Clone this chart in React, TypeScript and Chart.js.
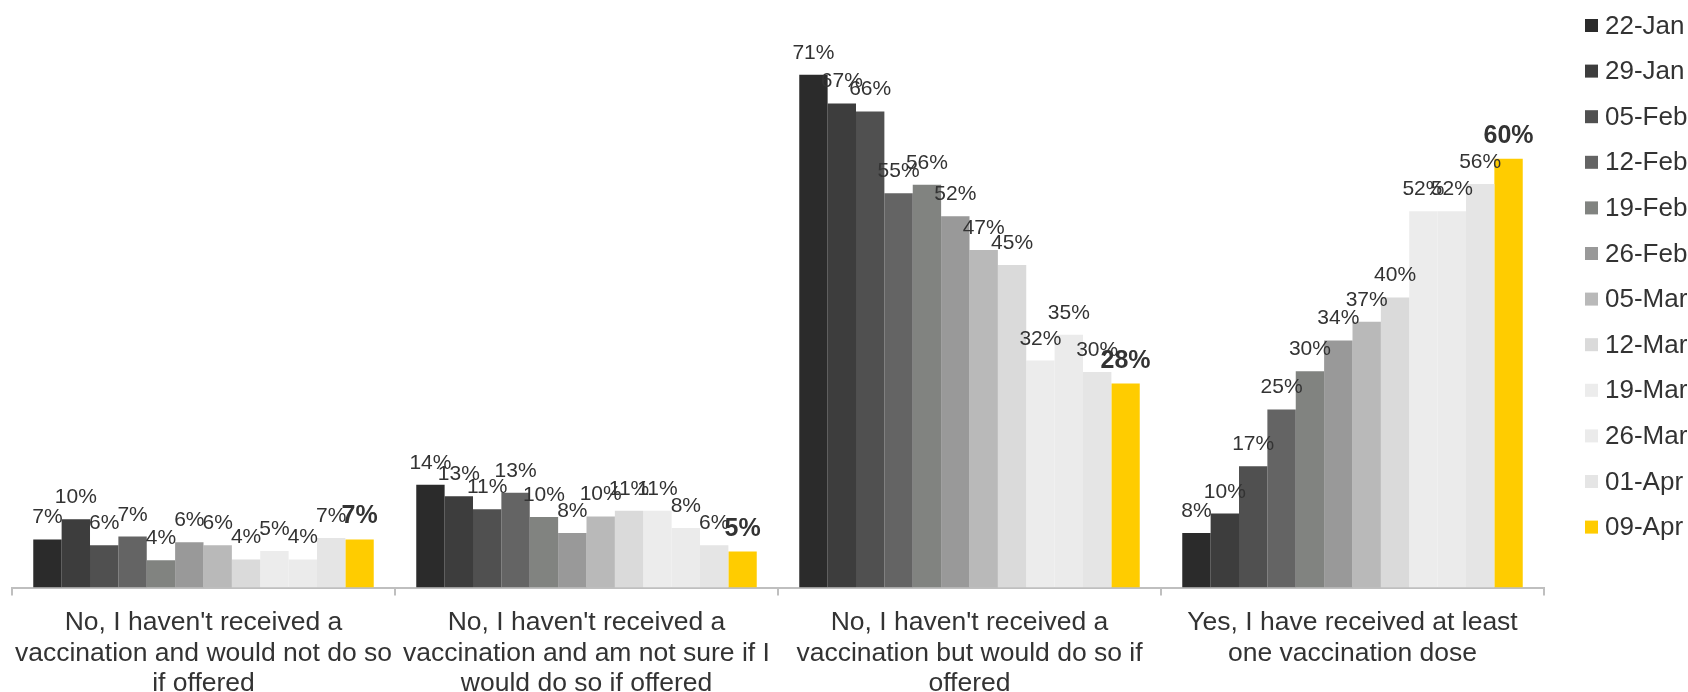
import React, { useEffect, useRef } from "react";
import { Chart, registerables } from "chart.js";

Chart.register(...registerables);

// ---- Data ----
const categories: string[][] = [
  ["No, I haven't received a", "vaccination and would not do so", "if offered"],
  ["No, I haven't received a", "vaccination and am not sure if I", "would do so if offered"],
  ["No, I haven't received a", "vaccination but would do so if", "offered"],
  ["Yes, I have received at least", "one vaccination dose"],
];

const dates = [
  "22-Jan", "29-Jan", "05-Feb", "12-Feb", "19-Feb", "26-Feb",
  "05-Mar", "12-Mar", "19-Mar", "26-Mar", "01-Apr", "09-Apr",
];

// one array per answer, one value per survey date (percent)
const notWould = [6.7, 9.5, 5.9, 7.1, 3.8, 6.3, 5.9, 3.9, 5.1, 3.9, 6.9, 6.7];
const notSure = [14.3, 12.7, 10.9, 13.2, 9.8, 7.6, 9.9, 10.7, 10.7, 8.3, 5.9, 5.0];
const wouldDo = [71.4, 67.4, 66.3, 54.9, 56.1, 51.7, 47.0, 44.9, 31.6, 35.2, 30.0, 28.4];
const received = [7.6, 10.3, 16.9, 24.8, 30.1, 34.4, 37.0, 40.4, 52.4, 52.4, 56.2, 59.7];

const seriesByCategory = [notWould, notSure, wouldDo, received];

const colors = [
  "#2b2b2b", "#3d3d3d", "#505050", "#646464", "#818380", "#999999",
  "#b9b9b9", "#dadada", "#ececec", "#ebebeb", "#e5e5e5", "#ffcc00",
];

const FONT = '"Liberation Sans", Arial, sans-serif';
const TEXT = "#333333";

const dataLabelPlugin = {
  id: "dataLabels",
  afterDatasetsDraw(chart: any) {
    const ctx = chart.ctx;
    ctx.save();
    ctx.textAlign = "center";
    ctx.textBaseline = "alphabetic";
    ctx.fillStyle = TEXT;
    const last = chart.data.datasets.length - 1;
    chart.data.datasets.forEach((ds: any, di: number) => {
      const meta = chart.getDatasetMeta(di);
      ctx.font = di === last ? `bold 25px ${FONT}` : `21px ${FONT}`;
      meta.data.forEach((el: any, i: number) => {
        const v = ds.data[i];
        ctx.fillText(Math.round(v) + "%", el.x, el.y - 16);
      });
    });
    ctx.restore();
  },
};

const sideLegendPlugin = {
  id: "sideLegend",
  afterDraw(chart: any) {
    const ctx = chart.ctx;
    const x0 = chart.chartArea.right + 41;
    ctx.save();
    ctx.font = `26px ${FONT}`;
    ctx.textAlign = "left";
    ctx.textBaseline = "middle";
    chart.data.datasets.forEach((ds: any, i: number) => {
      const cy = 25.5 + i * 45.6;
      ctx.fillStyle = ds.backgroundColor;
      ctx.fillRect(x0, cy - 6.5, 13, 13);
      ctx.fillStyle = TEXT;
      ctx.fillText(ds.label, x0 + 20, cy + 1);
    });
    ctx.restore();
  },
};

export default function App() {
  const ref = useRef<HTMLCanvasElement | null>(null);

  useEffect(() => {
    if (!ref.current) return;
    const datasets = dates.map((d, di) => ({
      label: d,
      data: seriesByCategory.map((s) => s[di]),
      backgroundColor: colors[di],
      borderWidth: 0,
      categoryPercentage: 0.889,
      barPercentage: 1.0,
    }));
    const chart = new Chart(ref.current, {
      type: "bar",
      data: { labels: categories, datasets },
      options: {
        animation: false,
        responsive: true,
        maintainAspectRatio: false,
        layout: { padding: { left: 12, right: 144, top: 13, bottom: 0 } },
        plugins: {
          legend: { display: false },
          tooltip: { enabled: false },
        },
        scales: {
          x: {
            offset: true,
            grid: {
              offset: true,
              drawOnChartArea: false,
              drawTicks: true,
              tickLength: 8,
              color: "#bfbfbf",
              lineWidth: 2,
            },
            border: { display: true, color: "#bfbfbf", width: 2 },
            ticks: {
              autoSkip: false,
              maxRotation: 0,
              minRotation: 0,
              padding: 12,
              color: TEXT,
              font: { family: FONT, size: 26.5, lineHeight: "30.5px" },
            },
            afterFit: (scale: any) => {
              scale.paddingLeft = 0;
              scale.paddingRight = 0;
            },
          },
          y: {
            display: false,
            min: 0,
            max: 80,
          },
        },
      },
      plugins: [dataLabelPlugin, sideLegendPlugin],
    });
    return () => chart.destroy();
  }, []);

  return (
    <div
      style={{
        position: "fixed",
        left: 0,
        top: 0,
        width: 1688,
        height: 692,
        overflow: "hidden",
        background: "#ffffff",
      }}
    >
      <div style={{ position: "relative", width: 1688, height: 711 }}>
        <canvas ref={ref} />
      </div>
    </div>
  );
}
